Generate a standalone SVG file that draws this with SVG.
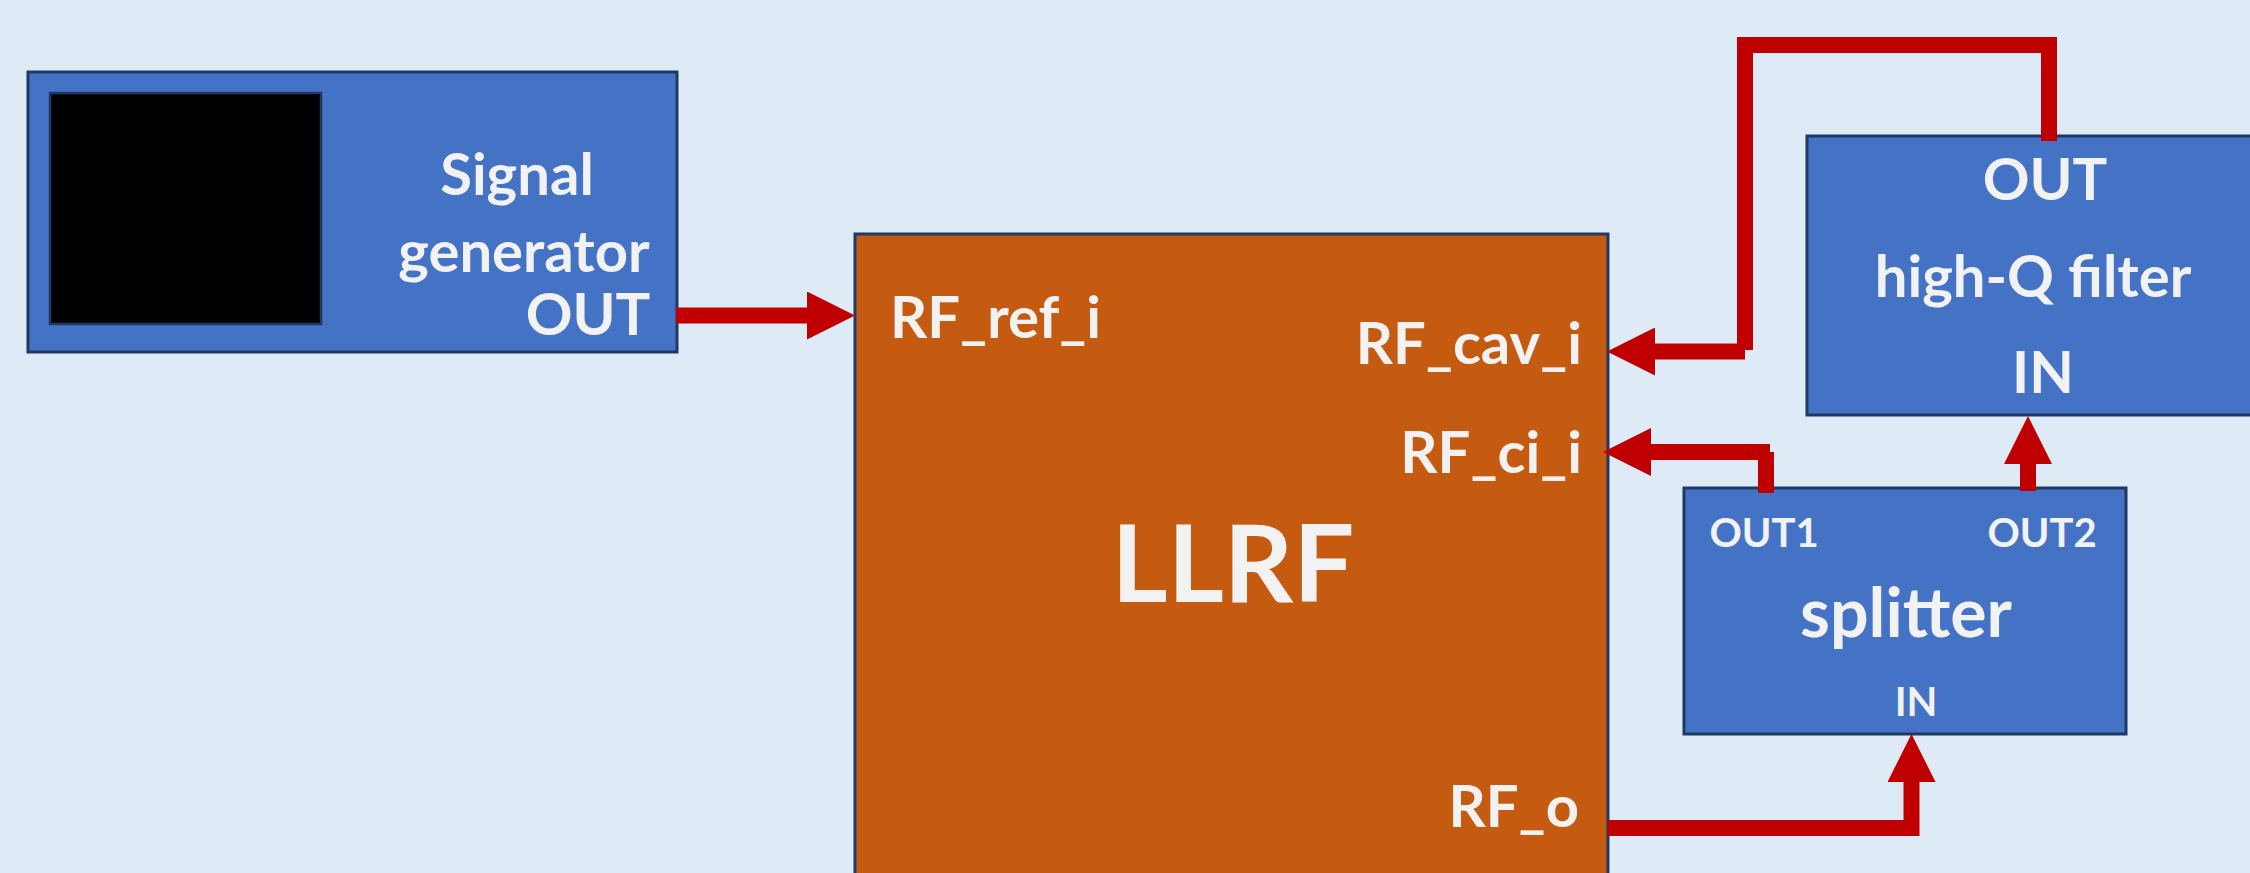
<svg xmlns="http://www.w3.org/2000/svg" width="2250" height="873" viewBox="0 0 2250 873">
  <style>
    .blue { fill: #4472c4; stroke: #203864; stroke-width: 3; }
    .orange { fill: #c55a11; stroke: #203864; stroke-width: 3; }
    .screen { fill: #000000; stroke: #1f3864; stroke-width: 2.5; }
    .lbl { font-family: Lato, "Open Sans", "DejaVu Sans", sans-serif; font-weight: bold; fill: #f2f2f2; text-anchor: middle; }
    .big { font-size: 58px; }
    .small { font-size: 40px; }
    .wire { fill: none; stroke: #c00000; stroke-width: 16; stroke-linecap: butt; }
  </style>
  <defs>
    <marker id="head" markerUnits="userSpaceOnUse" markerWidth="48" markerHeight="48" refX="0" refY="24" orient="auto" viewBox="0 0 48 48">
      <path d="M0,0 L48,24 L0,48 Z" fill="#c00000"/>
    </marker>
  </defs>

  <rect x="0" y="0" width="2250" height="873" fill="#deebf7"/>

  <!-- signal generator -->
  <g id="signal-generator">
    <rect class="blue" x="28" y="72" width="649" height="280"/>
    <rect class="screen" x="50" y="93" width="271" height="231"/>
    <text class="lbl big" x="517" y="195">Signal</text>
    <text class="lbl big" x="524" y="272">generator</text>
    <text class="lbl big" x="588" y="335">OUT</text>
  </g>

  <!-- LLRF controller -->
  <g id="llrf">
    <rect class="orange" x="855" y="234" width="753" height="660"/>
    <text class="lbl" x="1233" y="602" font-size="108">LLRF</text>
    <text class="lbl big" x="890" y="338" style="text-anchor:start">RF_ref_i</text>
    <text class="lbl big" x="1582" y="364" style="text-anchor:end">RF_cav_i</text>
    <text class="lbl big" x="1582" y="473" style="text-anchor:end">RF_ci_i</text>
    <text class="lbl big" x="1579" y="827" style="text-anchor:end">RF_o</text>
  </g>

  <!-- high-Q filter -->
  <g id="high-q-filter">
    <rect class="blue" x="1807" y="136" width="460" height="279"/>
    <text class="lbl big" x="2045" y="200">OUT</text>
    <text class="lbl big" x="2033" y="297">high-Q filter</text>
    <text class="lbl big" x="2043" y="393">IN</text>
  </g>

  <!-- splitter -->
  <g id="splitter">
    <rect class="blue" x="1684" y="488" width="442" height="246"/>
    <text class="lbl small" x="1764" y="547">OUT1</text>
    <text class="lbl small" x="2042" y="547">OUT2</text>
    <text class="lbl" x="1906" y="637" font-size="68">splitter</text>
    <text class="lbl small" x="1916" y="716">IN</text>
  </g>

  <!-- RF connections -->
  <g id="connectors">
    <!-- reference signal into LLRF -->
    <line class="wire" x1="676" y1="315.5" x2="807" y2="315.5" marker-end="url(#head)"/>
    <!-- filter output back to cavity input -->
    <line class="wire" x1="2049" y1="141" x2="2049" y2="37"/>
    <line class="wire" x1="1737" y1="45" x2="2057" y2="45"/>
    <line class="wire" x1="1745" y1="37" x2="1745" y2="350"/>
    <line class="wire" x1="1745" y1="351.5" x2="1655" y2="351.5" marker-end="url(#head)"/>
    <!-- splitter OUT1 to RF_ci_i -->
    <line class="wire" x1="1766" y1="493" x2="1766" y2="452"/>
    <line class="wire" x1="1770" y1="452" x2="1651" y2="452" marker-end="url(#head)"/>
    <!-- splitter OUT2 to filter IN -->
    <line class="wire" x1="2028" y1="491" x2="2028" y2="464" marker-end="url(#head)"/>
    <!-- LLRF output to splitter IN -->
    <line class="wire" x1="1608" y1="828" x2="1919" y2="828"/>
    <line class="wire" x1="1911.5" y1="836" x2="1911.5" y2="782" marker-end="url(#head)"/>
  </g>
</svg>
